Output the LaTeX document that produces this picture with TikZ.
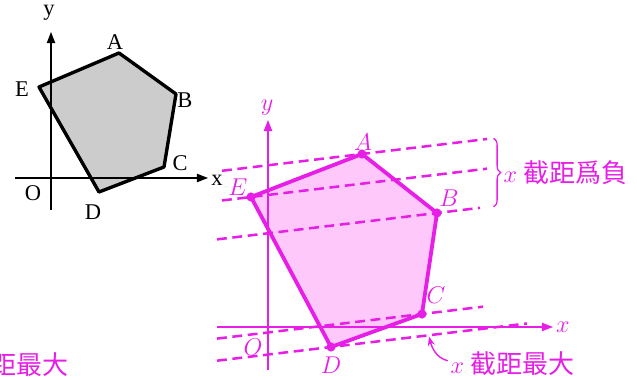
\documentclass[tikz,border=0pt]{standalone}
\usepackage{fontspec}
\newfontfamily\cjk{Noto Sans CJK TC}
\newfontfamily\tms{Liberation Serif}
\usepackage{tikz}
\usetikzlibrary{arrows.meta,calc,decorations.pathreplacing}
\definecolor{plotmag}{HTML}{E61EE6}
\definecolor{regionpink}{HTML}{FFC8FA}
\definecolor{regiongray}{HTML}{CCCCCC}

\begin{document}
\begin{tikzpicture}[font=\LARGE,
  axis/.style={line width=0.9pt,-{Triangle[length=8pt,width=6pt]}},
  edge/.style={line width=2.4pt,line join=round},
  cutline/.style={plotmag,line width=1.8pt,dash pattern=on 7pt off 4pt},
  vdot/.style={circle,fill=plotmag,inner sep=0pt,minimum size=6.5pt},
  lbl/.style={inner sep=1pt},
  note/.style={font=\fontsize{18.5}{22}\selectfont\cjk,text=plotmag,inner sep=1pt}]
  \clip (0,0) rectangle (15.925,9.5);
  \useasboundingbox (0,0) rectangle (15.925,9.5);
  % cut-off caption at the lower left
  \node[note,anchor=east,inner sep=0pt] (capleft) at (1.725,0.375) {距最大};
  % black sketch
  \begin{scope}[shift={(1.275,5.05)},font=\fontsize{16}{19}\selectfont\tms]
    \coordinate (lA) at (1.7,3.125);
    \coordinate (lB) at (3.125,2.1);
    \coordinate (lC) at (2.825,0.275);
    \coordinate (lD) at (1.2,-0.35);
    \coordinate (lE) at (-0.3,2.275);
    \fill[regiongray] (lA) -- (lB) -- (lC) -- (lD) -- (lE) -- cycle;
    \draw[axis] (-0.9,0) -- (3.925,0);
    \draw[axis] (0,-0.8) -- (0,3.65);
    \draw[edge] (lA) -- (lB) -- (lC) -- (lD) -- (lE) -- cycle;
    \node[lbl] (lAlbl) at (1.6,3.4) {A};
    \node[lbl] (lBlbl) at (3.35,1.95) {B};
    \node[lbl] (lClbl) at (3.225,0.375) {C};
    \node[lbl] (lDlbl) at (1.05,-0.85) {D};
    \node[lbl] (lElbl) at (-0.725,2.225) {E};
    \node[lbl] (lOlbl) at (-0.45,-0.375) {O};
    \node[lbl] (lxlbl) at (4.15,-0.05) {x};
    \node[lbl] (lylbl) at (-0.05,4.125) {y};
  \end{scope}
  % magenta figure
  \begin{scope}[shift={(6.7,1.325)},plotmag]
    \coordinate (A) at (2.35,4.325);
    \coordinate (B) at (4.225,2.85);
    \coordinate (C) at (3.85,0.325);
    \coordinate (D) at (1.575,-0.5);
    \coordinate (E) at (-0.425,3.25);
    \fill[regionpink] (A) -- (B) -- (C) -- (D) -- (E) -- cycle;
    \foreach \vx/\vy/\xl/\xr in {2.35/4.325/-1.15/5.475,-0.425/3.25/-1.15/5.475,
        4.225/2.85/-1.275/5.3,3.85/0.325/-1.275/5.375,1.575/-0.5/-1.275/6.475}{
      \draw[cutline] (\xl,{\vy+0.12*(\xl-\vx)}) -- (\xr,{\vy+0.12*(\xr-\vx)});
    }
    \draw[axis] (-1.275,0) -- (7.125,0);
    \draw[axis] (0,-1.075) -- (0,5.175);
    \draw[edge,line width=2.7pt] (A) -- (B) -- (C) -- (D) -- (E) -- cycle;
    \foreach \v in {A,B,C,D,E}{
      \node[vdot] (dot\v) at (\v) {};
    }
    \node[lbl] (Albl) at (2.375,4.625) {$A$};
    \node[lbl] (Blbl) at (4.525,3.225) {$B$};
    \node[lbl] (Clbl) at (4.2,0.8) {$C$};
    \node[lbl] (Dlbl) at (1.575,-0.95) {$D$};
    \node[lbl] (Elbl) at (-0.75,3.5) {$E$};
    \node[lbl] (Olbl) at (-0.375,-0.5) {$O$};
    \node[lbl] (xlbl) at (7.375,0) {$x$};
    \node[lbl] (ylbl) at (-0.025,5.475) {$y$};
    % brace over the top lines
    \draw[line width=0.9pt,decorate,decoration={brace,amplitude=5pt}] (5.64,4.72) -- (5.64,3.0);
    \node[note,anchor=west] (capneg) at (5.85,3.86) {$x$ 截距爲負};
    % bottom caption and its arrow
    \coordinate (dtip) at (4.025,-0.24);
    \node[note,anchor=west] (capmax) at (4.525,-0.925) {$x$ 截距最大};
    \draw[line width=1pt,-{Stealth[length=6.5pt,width=5pt]}] ($(capmax.west)+(-0.03,0.08)$) to[out=165,in=-75] (dtip);
  \end{scope}
\end{tikzpicture}
\end{document}
